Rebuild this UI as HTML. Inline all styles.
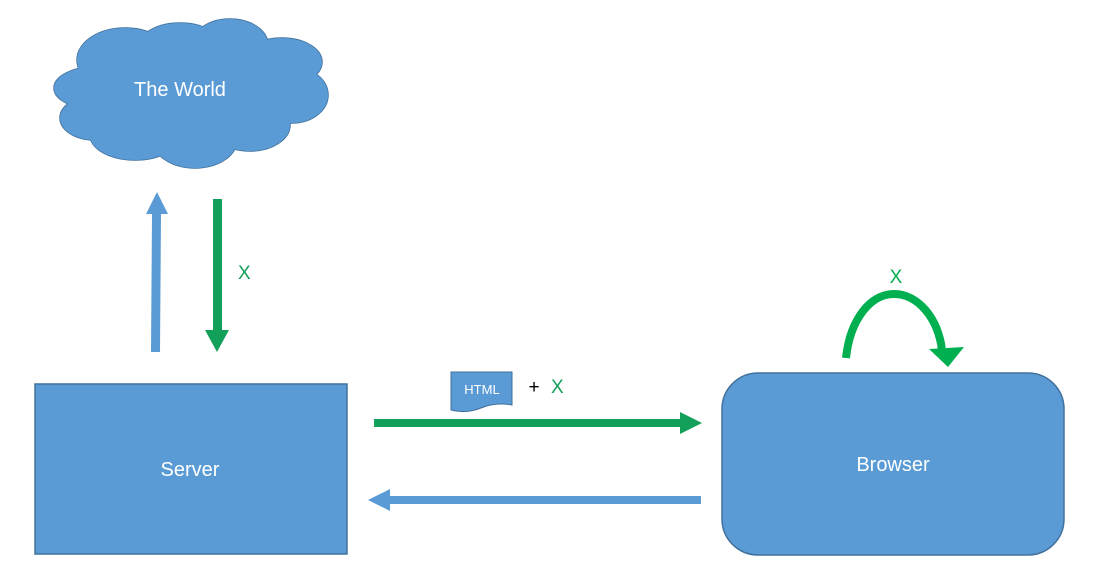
<!DOCTYPE html>
<html><head><meta charset="utf-8"><style>
html,body{margin:0;padding:0;background:#fff;width:1103px;height:582px;overflow:hidden}
svg{display:block}
text{font-family:"Liberation Sans",sans-serif}
</style></head><body>
<svg width="1103" height="582" viewBox="0 0 1103 582">
<defs>
  <g id="c">
  <ellipse cx="100" cy="88" rx="46" ry="22"/>
  <ellipse cx="125" cy="60" rx="48" ry="32"/>
  <ellipse cx="180" cy="45" rx="40" ry="22"/>
  <ellipse cx="230" cy="45" rx="38" ry="26"/>
  <ellipse cx="282" cy="62" rx="40" ry="24"/>
  <ellipse cx="292" cy="95" rx="36" ry="28"/>
  <ellipse cx="250" cy="125" rx="40" ry="26"/>
  <ellipse cx="195" cy="140" rx="42" ry="28"/>
  <ellipse cx="135" cy="135" rx="45" ry="25"/>
  <ellipse cx="95" cy="118" rx="35" ry="22"/>
  </g>
</defs>
<g stroke="#41719c" stroke-width="1.5" fill="#5b9bd5"><use href="#c"/></g>
<g stroke="none" fill="#5b9bd5"><use href="#c"/>
  <ellipse cx="190" cy="92" rx="100" ry="45"/>
</g>
<text x="180" y="96" fill="#fff" font-size="20" text-anchor="middle">The World</text>

<rect x="35" y="384" width="312" height="170" fill="#5b9bd5" stroke="#41719c" stroke-width="1.5"/>
<text x="190" y="476" fill="#fff" font-size="20" text-anchor="middle">Server</text>
<rect x="722" y="373" width="342" height="182" rx="36" fill="#5b9bd5" stroke="#41719c" stroke-width="1.5"/>
<text x="893" y="471" fill="#fff" font-size="20" text-anchor="middle">Browser</text>

<path d="M151 352 L152 214 L146 214 L157 192 L168 214 L161 214 L160 352 Z" fill="#5b9bd5"/>
<path d="M213 199 L222 199 L222 330 L229 330 L217 352 L205 330 L213 330 Z" fill="#13a05b"/>
<text x="238" y="279" fill="#13a05b" font-size="19">X</text>
<path d="M374 419 L680 419 L680 412 L702 423 L680 434 L680 427 L374 427 Z" fill="#13a05b"/>
<path d="M701 496 L390 496 L390 489 L368 500 L390 511 L390 504 L701 504 Z" fill="#5b9bd5"/>

<path d="M451 372 L512 372 L512 405 Q495 402 481 408 Q466 414 451 410 Z" fill="#5b9bd5" stroke="#41719c" stroke-width="1"/>
<text x="482" y="394" fill="#fff" font-size="13" text-anchor="middle">HTML</text>
<text x="534" y="393" fill="#000" font-size="19" text-anchor="middle">+</text>
<text x="551" y="393" fill="#13a05b" font-size="19">X</text>

<path d="M846 358 C850 320 870 294 894 294 C918 294 938 318 942 350" fill="none" stroke="#00b050" stroke-width="8"/>
<path d="M929 349 L964 347 L948 367 Z" fill="#00b050"/>
<text x="896" y="283" fill="#00b050" font-size="19" text-anchor="middle">X</text>
</svg>
</body></html>
